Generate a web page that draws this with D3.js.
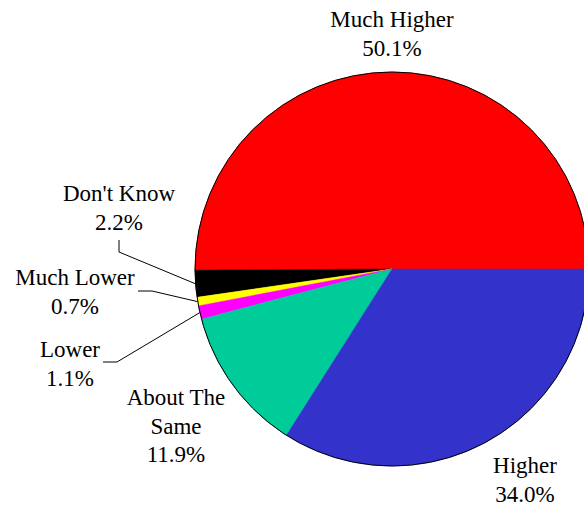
<!DOCTYPE html>
<html>
<head>
<meta charset="utf-8">
<script src="https://cdn.jsdelivr.net/npm/d3@7"></script>
<style>
  html, body { margin: 0; padding: 0; background: #fff; }
  svg { display: block; }
  text { font-family: "Liberation Serif", "Times New Roman", Times, "DejaVu Serif", serif; }
</style>
</head>
<body>
<svg id="chart" width="584" height="507"></svg>
<script>
// ---- data ----
const categories = ["Much Higher", "Don't Know", "Much Lower", "Lower", "About The Same", "Higher"];
const values = [50.1, 2.2, 0.7, 1.1, 11.9, 34.0];
const colors = ["#FF0000", "#000000", "#FFFF00", "#FF00FF", "#00CC99", "#3333CC"];
const labelLines = [["Much Higher"], ["Don't Know"], ["Much Lower"], ["Lower"], ["About The", "Same"], ["Higher"]];

// ---- layout ----
const cx = 392, cy = 269, r = 197;
const fontSize = 23, lineH = 28.7;
// label anchor (center x, first baseline y) and leader elbow points
const labelPos = [
  { x: 392, y: 27 },
  { x: 119, y: 201, leader: [[119, 240], [119, 252]] },
  { x: 75, y: 285, leader: [[138, 291], [152, 291]] },
  { x: 70, y: 357, leader: [[103, 362], [117, 362]] },
  { x: 176, y: 405 },
  { x: 525, y: 473 }
];

const svg = d3.select("#chart");
const data = categories.map((c, i) => ({ cat: c, value: values[i], color: colors[i], lines: labelLines[i], pos: labelPos[i] }));

const pie = d3.pie().sort(null).value(d => d.value)
  .startAngle(Math.PI / 2).endAngle(Math.PI / 2 - 2 * Math.PI);
const arc = d3.arc().innerRadius(0).outerRadius(r);
const arcs = pie(data);

const g = svg.append("g").attr("transform", `translate(${cx},${cy})`);
g.selectAll("path.slice").data(arcs).join("path")
  .attr("class", "slice")
  .attr("d", arc)
  .attr("fill", d => d.data.color)
  .attr("stroke", d => d.data.color)
  .attr("stroke-width", 0.5);

g.append("circle").attr("r", r).attr("fill", "none").attr("stroke", "#000").attr("stroke-width", 1);

// leader lines
arcs.forEach(a => {
  const p = a.data.pos;
  if (!p.leader) return;
  const mid = (a.startAngle + a.endAngle) / 2;
  const edge = [cx + r * Math.sin(mid), cy - r * Math.cos(mid)];
  const pts = p.leader.concat([edge]);
  svg.append("path")
    .attr("d", d3.line()(pts))
    .attr("fill", "none")
    .attr("stroke", "#000")
    .attr("stroke-width", 1);
});

// labels
arcs.forEach(a => {
  const d = a.data;
  const lines = d.lines.concat([d.value.toFixed(1) + "%"]);
  const t = svg.append("text")
    .attr("text-anchor", "middle")
    .style("font-size", fontSize + "px")
    .attr("fill", "#000");
  lines.forEach((ln, i) => {
    t.append("tspan").attr("x", d.pos.x).attr("y", d.pos.y + i * lineH).text(ln);
  });
});
</script>
</body>
</html>
